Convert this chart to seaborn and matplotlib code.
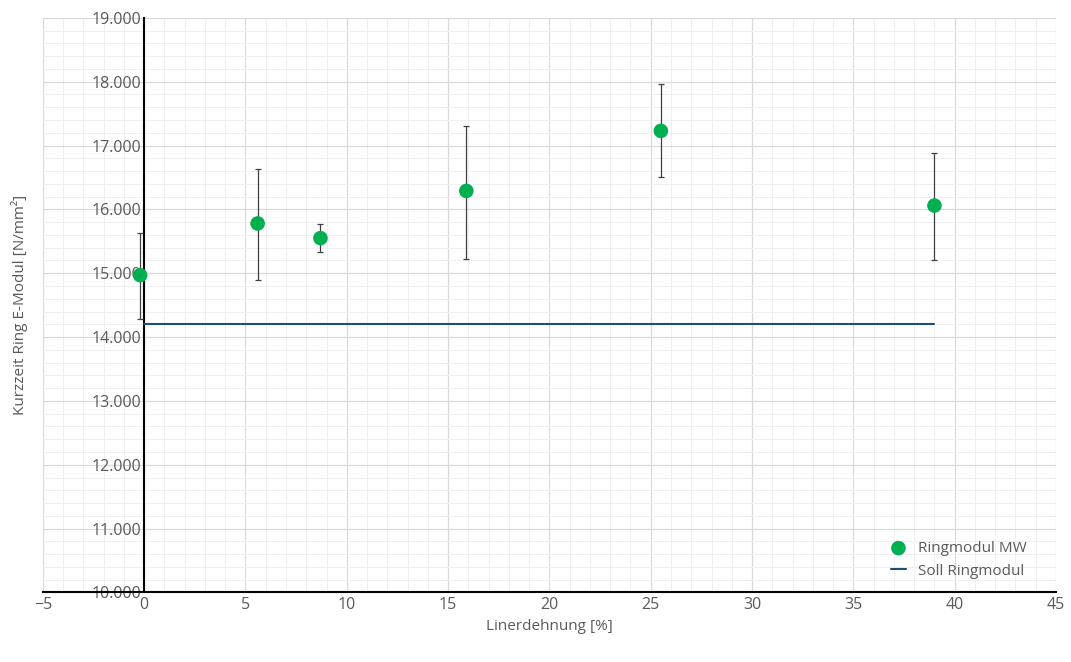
import matplotlib
matplotlib.use("Agg")
import matplotlib.pyplot as plt
import seaborn as sns
import numpy as np
import pandas as pd
from matplotlib.ticker import MultipleLocator, FuncFormatter

x_vals = [-0.2, 5.6, 8.7, 15.9, 25.5, 39.0]
y_vals = [14970, 15780, 15550, 16290, 17230, 16060]
err_lo = [14280, 14900, 15330, 15220, 16500, 15200]
err_hi = [15630, 16630, 15770, 17300, 17960, 16880]
soll_x = [0, 39.0]
soll_y = [14200, 14200]

sns.set_theme(style="white")
plt.rcParams['font.family'] = ['Open Sans', 'DejaVu Sans']

fig, ax = plt.subplots(figsize=(10.71, 6.62), dpi=100)
fig.subplots_adjust(left=0.04, right=0.986, top=0.973, bottom=0.105)

df = pd.DataFrame({"x": x_vals, "y": y_vals})
ylo = np.array(y_vals) - np.array(err_lo)
yhi = np.array(err_hi) - np.array(y_vals)
ax.errorbar(x_vals, y_vals, yerr=[ylo, yhi], fmt="none", ecolor="#404040",
            elinewidth=0.9, capsize=2, capthick=0.9, zorder=3)
sns.lineplot(x=soll_x, y=soll_y, ax=ax, color="#1f4e79", lw=1.5, label="Soll Ringmodul", zorder=3)
sns.scatterplot(data=df, x="x", y="y", ax=ax, color="#00b050", s=110, edgecolor="none",
                label="Ringmodul MW", zorder=4)

ax.set_xlim(-5, 45)
ax.set_ylim(10000, 19000)
ax.xaxis.set_major_locator(MultipleLocator(5))
ax.xaxis.set_minor_locator(MultipleLocator(1))
ax.yaxis.set_major_locator(MultipleLocator(1000))
ax.yaxis.set_minor_locator(MultipleLocator(200))
ax.yaxis.set_major_formatter(FuncFormatter(lambda v, p: f"{v/1000:.3f}"))
ax.grid(which="major", color="#d9d9d9", lw=0.9)
ax.grid(which="minor", color="#efefef", lw=0.7)
ax.set_axisbelow(True)

for s in ["top", "right"]:
    ax.spines[s].set_visible(False)
ax.spines["left"].set_position(("data", 0))
ax.spines["left"].set_color("black")
ax.spines["left"].set_linewidth(1.5)
ax.spines["bottom"].set_color("black")
ax.spines["bottom"].set_linewidth(1.5)
ax.tick_params(axis="both", labelsize=11.5, colors="#595959", length=0)
ax.tick_params(axis="y", pad=2)
for lbl in ax.get_yticklabels():
    lbl.set_horizontalalignment("right")
ax.set_xlabel("Linerdehnung [%]", fontsize=11, color="#595959")
ax.set_ylabel("Kurzzeit Ring E-Modul [N/mm²]", fontsize=11, color="#595959")
ax.yaxis.set_label_coords(-0.015, 0.5, transform=ax.transAxes)

h, l = ax.get_legend_handles_labels()
order = [l.index("Ringmodul MW"), l.index("Soll Ringmodul")]
leg = ax.legend([h[i] for i in order], [l[i] for i in order], loc="lower right",
                frameon=False, fontsize=11, handlelength=1.0, bbox_to_anchor=(0.985, 0.0))
for t in leg.get_texts():
    t.set_color("#595959")

fig.savefig("out.png", dpi=100)
